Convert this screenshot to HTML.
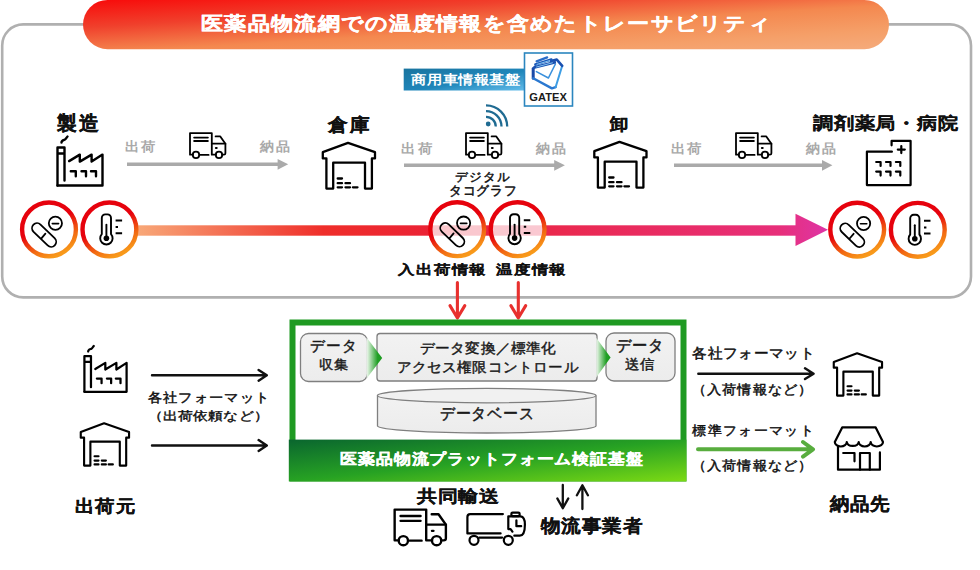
<!DOCTYPE html>
<html><head><meta charset="utf-8">
<style>
html,body{margin:0;padding:0;background:#fff;}
body{width:980px;height:570px;position:relative;overflow:hidden;font-family:"Liberation Sans",sans-serif;color:#111;}
.t{position:absolute;white-space:nowrap;line-height:1;transform-origin:0 0;}
.b{font-weight:bold;}
svg{position:absolute;left:0;top:0;}
</style></head><body>
<svg width="980" height="570" viewBox="0 0 980 570">
<defs>
<linearGradient id="gTitle" x1="0" y1="0" x2="1" y2="1" gradientUnits="objectBoundingBox">
<stop offset="0" stop-color="#f80a0a"/><stop offset="0.28" stop-color="#f0402c"/><stop offset="0.55" stop-color="#f4884f"/><stop offset="0.8" stop-color="#f59f68"/><stop offset="1" stop-color="#f5ab7c"/>
</linearGradient>
<linearGradient id="gRing" x1="0.3" y1="0.1" x2="0.72" y2="0.95">
<stop offset="0.38" stop-color="#e6020d"/><stop offset="0.75" stop-color="#f26a12"/><stop offset="1" stop-color="#f8991a"/>
</linearGradient>
<linearGradient id="gBar" gradientUnits="userSpaceOnUse" x1="137" y1="0" x2="828" y2="0">
<stop offset="0" stop-color="#f8a878"/><stop offset="0.27" stop-color="#ef2e2a"/><stop offset="0.45" stop-color="#ea2036"/><stop offset="0.62" stop-color="#ea2950"/><stop offset="0.93" stop-color="#e72f7a"/><stop offset="1" stop-color="#de34a6"/>
</linearGradient>
<linearGradient id="gBlue" x1="0" y1="0" x2="1" y2="1">
<stop offset="0" stop-color="#19749f"/><stop offset="0.55" stop-color="#1f86ba"/><stop offset="1" stop-color="#62bcea"/>
</linearGradient>
<linearGradient id="gGreenBand" x1="0" y1="0" x2="1" y2="1">
<stop offset="0" stop-color="#0a662f"/><stop offset="0.5" stop-color="#27a223"/><stop offset="1" stop-color="#7cda14"/>
</linearGradient>
<linearGradient id="gChev" x1="0" y1="0" x2="1" y2="0">
<stop offset="0" stop-color="#eef6ee"/><stop offset="0.15" stop-color="#c6e6c6"/><stop offset="0.7" stop-color="#22a026"/><stop offset="1" stop-color="#1a9a1e"/>
</linearGradient>
<linearGradient id="gBox" x1="0" y1="0" x2="0" y2="1">
<stop offset="0" stop-color="#f2f2f2"/><stop offset="1" stop-color="#ececec"/>
</linearGradient>

<symbol id="factory" viewBox="0 0 48 52" overflow="visible">
<g fill="none" stroke="#000" stroke-width="2.4" stroke-linecap="round" stroke-linejoin="round">
<path d="M5.5,7.5 C5.5,5 8,5 9,4.5 C10,4 10.5,2.5 11.5,1.5"/>
<path d="M1.5,50.5 V12.5 H8.5 V18.5 H1.5 M8.5,18.5 V45.5"/>
<path d="M1.5,50.5 H46.5 V19.6 L35.6,26.6 V19.6 L23.8,26.6 V19.6 L13.1,26.1"/>
<path d="M14.8,36.3 H19.8 V41.3 M25.5,36.3 H30 V41.3 M35,36.3 H40 V41.3"/>
</g></symbol>

<symbol id="truck" viewBox="0 0 38 27" overflow="visible" preserveAspectRatio="none">
<g fill="none" stroke="#000" style="stroke-width:var(--sw,1.8)" stroke-linecap="round" stroke-linejoin="round">
<path d="M3.8,22.7 H1 V1.1 H22.8 V22.7 H26.8"/>
<path d="M5.1,5.6 H18.9 M5.1,9 H18.9"/>
<circle cx="7" cy="22.9" r="3.2"/>
<path d="M11.2,22.9 H19.6"/>
<path d="M26.6,4.4 H31.3 L36.4,11.7 V21.2 Q36.4,22.7 34.9,22.7 H33.2"/>
<path d="M22.8,11.7 H36.4"/>
<path d="M26.8,16 H27.8"/>
<circle cx="30" cy="22.9" r="3.2"/>
</g></symbol>

<symbol id="house" viewBox="0 0 54 48" overflow="visible">
<g fill="none" stroke="#000" stroke-width="2.3" stroke-linecap="round" stroke-linejoin="round">
<path d="M26,0.8 L0.8,10.2 V16.4 H4.4 V46.6 H11.2 V20.7 H43 V46.6 H49.9 V16.4 H53 V10.2 Z"/>
<path d="M15.7,36.5 H20 M15.7,41.2 H20 M23.5,41.2 H28 M15.7,45.3 H20 M23.5,45.3 H28 M30.9,45.3 H35.5"/>
</g></symbol>

<symbol id="hospital" viewBox="0 0 46 46" overflow="visible">
<g fill="none" stroke="#000" stroke-width="2.2" stroke-linecap="round" stroke-linejoin="round">
<path d="M25.9,11.7 H0.9 V45.1 H44.6 V0.9 H25.6 V5.3"/>
<path d="M31.8,9.6 H38.8 M35.3,6.1 V13.1"/>
<path d="M10.2,22 H14.6 V26 M20,22 H24.5 V26 M29.9,22 H34.3 V26 M10.2,31.6 H14.6 V35.6 M20,31.6 H24.5 V35.6 M29.9,31.6 H34.3 V35.6"/>
</g></symbol>

<symbol id="shop" viewBox="0 0 50 46" overflow="visible">
<g fill="none" stroke="#000" stroke-width="2.2" stroke-linecap="round" stroke-linejoin="round">
<path d="M8.2,1.4 H41.7 L49,16.1 A6.15,4.4 0 0 1 36.7,16.1 A6,4.4 0 0 1 24.7,16.1 A6,4.4 0 0 1 12.8,16.1 A6,4.4 0 0 1 0.8,16.1 Z"/>
<path d="M4,20.5 V43.7 H45.9 V26.4"/>
<path d="M9.2,27 H20.5 V35.3"/>
<path d="M26,43.7 V27 H35.8 V43.7"/>
</g></symbol>

<symbol id="pill" viewBox="-29 -29 58 58" overflow="visible">
<g fill="none" stroke="#000" stroke-width="1.8" stroke-linecap="round">
<rect x="-14.8" y="-5" width="29.6" height="10" rx="5" transform="translate(-4.9,5.6) rotate(44)"/>
<path d="M-7.6,8.9 L-3.6,4.2"/>
<circle cx="6.4" cy="-6.1" r="6.6"/>
<path d="M3.3,-5.8 H9.6" stroke-width="1.6"/>
</g></symbol>

<symbol id="thermo" viewBox="-29 -29 58 58" overflow="visible">
<g fill="none" stroke="#000" stroke-width="1.9" stroke-linecap="round" stroke-linejoin="round">
<path d="M-7.6,4.7 V-11.5 A3.5,3.5 0 0 1 -4.1,-15 H-1.9 A3.5,3.5 0 0 1 1.6,-11.5 V4.7 A6.2,6.2 0 1 1 -7.6,4.7 Z"/>
<path d="M-3,-4.6 V8.9"/>
<path d="M6.2,-9 H12.7 M6.2,-2.4 H8.6 M6.2,3.8 H12.7" stroke-width="2" stroke-linecap="butt"/>
</g>
<circle cx="-3" cy="8.9" r="2.8" fill="#000"/>
</symbol>
</defs>

<!-- gray frame -->
<rect x="2.2" y="24.4" width="968.8" height="273" rx="21" fill="none" stroke="#b0b0b0" stroke-width="2.6"/>
<!-- title pill -->
<rect x="83" y="0" width="806" height="49.2" rx="24.6" fill="url(#gTitle)"/>

<!-- commercial vehicle platform -->
<rect x="403.7" y="68.6" width="120.6" height="21.9" fill="url(#gBlue)"/>
<rect x="524.5" y="53" width="48" height="53" fill="#fff" stroke="#2b86bf" stroke-width="1.6"/>
<g fill="none" stroke-linejoin="round" stroke-linecap="round">
<path d="M533.2,68.6 V78.2" stroke="#1a4aa8" stroke-width="3"/>
<path d="M533.2,78.2 L551.9,88.4 L555.6,87.2" stroke="#2a78d0" stroke-width="2.4"/>
<path d="M555.6,87.2 L562.2,65.8" stroke="#3d9de4" stroke-width="2"/>
<path d="M562.2,65.8 L556.8,59.6 L551,61" stroke="#1a50b0" stroke-width="2.6"/>
<path d="M536.4,71.6 L548.4,78 L555.4,64" stroke="#3a90dc" stroke-width="1.6"/>
<path d="M534.4,67.4 L554.6,62.4" stroke="#1a50b0" stroke-width="3"/>
<path d="M535.4,64.6 L551.4,59.6" stroke="#1a58b8" stroke-width="2.6"/>
<path d="M536.6,61.4 L547.2,57.4" stroke="#2a6cc8" stroke-width="2.2"/>
<path d="M537,64.4 L549.6,60.6 M536.6,67 L552.4,62.8" stroke="#8fd0f8" stroke-width="0.9"/>
</g>

<text x="529.3" y="101" font-family="Liberation Sans" font-weight="bold" font-size="11.6" fill="#1a1a1a" textLength="37.5" lengthAdjust="spacingAndGlyphs">GATEX</text>
<!-- top row icons -->
<use href="#factory" x="56" y="135" width="48" height="52"/>
<use href="#house" x="322" y="142" width="54" height="48"/>
<use href="#house" x="593.5" y="141" width="54" height="48"/>
<use href="#hospital" x="866" y="140" width="46" height="46"/>
<use href="#truck" x="189" y="132" width="38" height="27"/>
<use href="#truck" x="465" y="132" width="38" height="27"/>
<use href="#truck" x="735" y="132" width="38" height="27"/>
<!-- wifi -->
<g fill="none" stroke="#1f6b92" stroke-width="2.3" stroke-linecap="butt">
<path d="M486,116.8 A9.8,9.8 0 0 1 495.8,126.6"/>
<path d="M486,111.1 A15.5,15.5 0 0 1 501.5,126.6"/>
<path d="M486,105.4 A21.2,21.2 0 0 1 507.2,126.6"/>
</g>
<circle cx="488.2" cy="124" r="2.4" fill="#1f6b92"/>

<!-- gray arrows -->
<g stroke="#aaaaaa" stroke-width="3.4" fill="#aaaaaa">
<path d="M127,164.3 H279"/><path d="M288.2,164.3 L277.6,158.9 V169.7 Z" stroke="none"/>
<path d="M404,165.3 H556"/><path d="M564.9,165.3 L554.2,159.9 V170.7 Z" stroke="none"/>
<path d="M674,165.3 H824"/><path d="M832.4,165.3 L822,159.9 V170.7 Z" stroke="none"/>
</g>

<!-- gradient bar + arrow -->
<rect x="137" y="225.3" width="661" height="10.4" fill="url(#gBar)"/>
<path d="M795.5,213.8 L828,229.8 L795.5,246 Z" fill="url(#gBar)"/>

<!-- circles -->
<g stroke="url(#gRing)" stroke-width="4.4" fill="#fff">
<circle cx="49" cy="229.4" r="26.9"/>
<circle cx="109.4" cy="229.4" r="26.9"/>
<circle cx="457.2" cy="229.2" r="26.9" fill-opacity="0.75"/>
<circle cx="517.6" cy="229.2" r="26.9" fill-opacity="0.75"/>
<circle cx="857.2" cy="229.6" r="26.9"/>
<circle cx="917.8" cy="229.8" r="26.9"/>
</g>
<use href="#pill" x="20" y="200.4" width="58" height="58"/>
<use href="#thermo" x="80.4" y="200.4" width="58" height="58"/>
<use href="#pill" x="428.2" y="200.2" width="58" height="58"/>
<use href="#thermo" x="488.6" y="200.2" width="58" height="58"/>
<use href="#pill" x="828.2" y="200.6" width="58" height="58"/>
<use href="#thermo" x="888.8" y="200.8" width="58" height="58"/>

<!-- red down arrows -->
<g stroke="#e8302e" stroke-width="3.1" fill="none" stroke-linecap="round" stroke-linejoin="round">
<path d="M457.4,282.5 V317.5 M450,305.6 L457.4,318 L464.8,305.6"/>
<path d="M518.3,282.5 V317.5 M510.9,305.6 L518.3,318 L525.7,305.6"/>
</g>

<!-- green platform -->
<rect x="292.5" y="322.5" width="391" height="156" fill="#fff" stroke="#1f9a22" stroke-width="6"/>
<rect x="288.8" y="439.6" width="397.6" height="41.8" fill="url(#gGreenBand)"/>
<!-- inner boxes -->
<rect x="300.5" y="333.5" width="67" height="48" rx="8" fill="url(#gBox)" stroke="#7f7f7f" stroke-width="1.3"/>
<rect x="377" y="333.5" width="220" height="47.5" rx="3" fill="url(#gBox)" stroke="#7f7f7f" stroke-width="1.3"/>
<rect x="606" y="333" width="69" height="48" rx="8" fill="url(#gBox)" stroke="#7f7f7f" stroke-width="1.3"/>
<path d="M366.6,337.4 L382.2,358 L366.6,378.4 Z" fill="url(#gChev)"/>
<path d="M596.2,337.8 L610.6,357.6 L596.2,377.6 Z" fill="url(#gChev)"/>
<!-- cylinder -->
<path d="M377.5,395.5 V426 A109.3,7.2 0 0 0 596,426 V395.5" fill="url(#gBox)" stroke="#7f7f7f" stroke-width="1.3"/>
<ellipse cx="486.7" cy="395.6" rx="109.3" ry="7.2" fill="#f1f1f1" stroke="#7f7f7f" stroke-width="1.3"/>

<!-- bottom-left icons and arrows -->
<use href="#factory" x="83" y="344.5" width="45" height="48.8"/>
<use href="#house" x="80" y="422.5" width="50" height="44.4"/>
<g stroke="#111" stroke-width="2.4" fill="none" stroke-linecap="round" stroke-linejoin="round">
<path d="M152,375.3 H266.5 M258.6,369.9 L266.8,375.3 L258.6,380.7"/>
<path d="M152,445.5 H266.5 M258.6,440.1 L266.8,445.5 L258.6,450.9"/>
<path d="M698.3,373.7 H813.5 M805,368.3 L813.6,373.7 L805,379.1"/>
</g>
<g stroke="#58ad3e" stroke-width="4" fill="none" stroke-linecap="round" stroke-linejoin="round">
<path d="M698,449.3 H812 M803,442 L813,449.3 L803,456.6"/>
</g>
<use href="#house" x="833" y="352.5" width="50" height="44.4"/>
<use href="#shop" x="834" y="426" width="50" height="46"/>

<!-- bottom trucks -->
<use href="#truck" x="393.2" y="508" width="55" height="38.5" style="--sw:1.65"/>
<g fill="none" stroke="#000" stroke-width="2.2" stroke-linecap="round" stroke-linejoin="round">
<path d="M502.9,514.1 H470.2 Q467.4,514.1 467.4,516.9 V533.4 H500.6"/>
<path d="M479.4,537.6 H502.1"/>
<circle cx="474" cy="540.3" r="4.5"/>
<circle cx="508.3" cy="540.3" r="4.5"/>
<rect x="511.4" y="512.6" width="8.2" height="3.6" rx="1.2"/>
<path d="M508.3,529.1 V516.4 H520.6 Q524.9,517 524.9,524.5 Q524.9,535.7 519.8,535.7 H514.3 M508.3,529.1 H510.6 L512.4,531.6"/>
<path d="M516.4,520.3 V526.2 H521.2"/>
</g>
<g stroke="#111" stroke-width="2.3" fill="none" stroke-linecap="round" stroke-linejoin="round">
<path d="M562.8,485 V508 M557.3,498.4 L562.8,508.2 L568.3,498.4"/>
<path d="M582.4,509 V485.5 M576.9,495.3 L582.4,485.3 L587.9,495.3"/>
</g>
</svg>

<!-- TEXT -->
<div class="t" style="left:201.2px;top:14.9px;font-size:22.26px;letter-spacing:1.283px;transform:scaleY(0.861);color:#fff;font-weight:bold;-webkit-text-stroke:0.35px #fff">医薬品物流網での温度情報を含めたトレーサビリティ</div>
<div class="t" style="left:411.3px;top:74.4px;font-size:14.81px;letter-spacing:0.617px;transform:scaleY(0.853);color:#fff;font-weight:bold">商用車情報基盤</div>
<div class="t" style="left:57.3px;top:113.8px;font-size:19.24px;letter-spacing:2.5px;transform:scaleY(1.016);color:#111;font-weight:bold;-webkit-text-stroke:0.3px #111">製造</div>
<div class="t" style="left:328.0px;top:115.6px;font-size:19.47px;letter-spacing:3.0px;transform:scaleY(0.920);color:#111;font-weight:bold;-webkit-text-stroke:0.3px #111">倉庫</div>
<div class="t" style="left:609.7px;top:115.7px;font-size:18.71px;letter-spacing:1.2px;transform:scaleY(0.932);color:#111;font-weight:bold;-webkit-text-stroke:0.3px #111">卸</div>
<div class="t" style="left:813.2px;top:116.2px;font-size:19.61px;letter-spacing:0.75px;transform:scaleY(0.843);color:#111;font-weight:bold;-webkit-text-stroke:0.3px #111">調剤薬局・病院</div>
<div class="t" style="left:125.4px;top:139.6px;font-size:14.36px;letter-spacing:2.1px;transform:scaleY(0.914);color:#a9a9a9;font-weight:bold">出荷</div>
<div class="t" style="left:259.9px;top:139.6px;font-size:14.18px;letter-spacing:2.1px;transform:scaleY(0.929);color:#a9a9a9;font-weight:bold">納品</div>
<div class="t" style="left:401.4px;top:141.9px;font-size:14.46px;letter-spacing:2.3px;transform:scaleY(0.907);color:#a9a9a9;font-weight:bold">出荷</div>
<div class="t" style="left:536.0px;top:141.6px;font-size:14.23px;letter-spacing:2.2px;transform:scaleY(0.929);color:#a9a9a9;font-weight:bold">納品</div>
<div class="t" style="left:671.4px;top:141.9px;font-size:14.36px;letter-spacing:2.1px;transform:scaleY(0.907);color:#a9a9a9;font-weight:bold">出荷</div>
<div class="t" style="left:805.9px;top:141.6px;font-size:14.27px;letter-spacing:2.3px;transform:scaleY(0.929);color:#a9a9a9;font-weight:bold">納品</div>
<div class="t" style="left:455.4px;top:170.5px;font-size:12.72px;letter-spacing:0.967px;transform:scaleY(0.950);color:#111;font-weight:normal;-webkit-text-stroke:0.5px #111">デジタル</div>
<div class="t" style="left:449.3px;top:185.2px;font-size:12.79px;letter-spacing:0.575px;transform:scaleY(1.017);color:#111;font-weight:normal;-webkit-text-stroke:0.5px #111">タコグラフ</div>
<div class="t" style="left:398.1px;top:264.0px;font-size:16.69px;letter-spacing:0.825px;transform:scaleY(0.794);color:#111;font-weight:bold;-webkit-text-stroke:0.25px #111">入出荷情報</div>
<div class="t" style="left:496.0px;top:264.0px;font-size:16.72px;letter-spacing:0.8px;transform:scaleY(0.794);color:#111;font-weight:bold;-webkit-text-stroke:0.25px #111">温度情報</div>
<div class="t" style="left:310.2px;top:337.8px;font-size:15.03px;letter-spacing:1.15px;transform:scaleY(1.023);color:#1a1a1a;font-weight:normal;-webkit-text-stroke:0.45px #1a1a1a">データ</div>
<div class="t" style="left:318.6px;top:358.0px;font-size:14.06px;letter-spacing:1.5px;transform:scaleY(0.914);color:#1a1a1a;font-weight:normal;-webkit-text-stroke:0.45px #1a1a1a">収集</div>
<div class="t" style="left:420.0px;top:341.9px;font-size:14.26px;letter-spacing:1.138px;transform:scaleY(0.957);color:#1a1a1a;font-weight:normal;-webkit-text-stroke:0.45px #1a1a1a">データ変換／標準化</div>
<div class="t" style="left:396.5px;top:359.8px;font-size:14.14px;letter-spacing:1.191px;transform:scaleY(0.964);color:#1a1a1a;font-weight:normal;-webkit-text-stroke:0.45px #1a1a1a">アクセス権限コントロール</div>
<div class="t" style="left:616.1px;top:338.0px;font-size:14.89px;letter-spacing:0.95px;transform:scaleY(1.046);color:#1a1a1a;font-weight:normal;-webkit-text-stroke:0.45px #1a1a1a">データ</div>
<div class="t" style="left:625.4px;top:356.9px;font-size:14.13px;letter-spacing:1.0px;transform:scaleY(0.977);color:#1a1a1a;font-weight:normal;-webkit-text-stroke:0.45px #1a1a1a">送信</div>
<div class="t" style="left:440.0px;top:406.2px;font-size:14.59px;letter-spacing:0.72px;transform:scaleY(1.069);color:#1a1a1a;font-weight:normal;-webkit-text-stroke:0.45px #1a1a1a">データベース</div>
<div class="t" style="left:340.1px;top:452.1px;font-size:16.82px;letter-spacing:0.862px;transform:scaleY(0.889);color:#fff;font-weight:bold;-webkit-text-stroke:0.35px #fff">医薬品物流プラットフォーム検証基盤</div>
<div class="t" style="left:147.9px;top:391.3px;font-size:14.29px;letter-spacing:1.3px;transform:scaleY(0.914);color:#111;font-weight:normal;-webkit-text-stroke:0.5px #111">各社フォーマット</div>
<div class="t" style="left:147.6px;top:409.9px;font-size:14.37px;letter-spacing:1.157px;transform:scaleY(0.813);color:#111;font-weight:normal;-webkit-text-stroke:0.5px #111">（出荷依頼など）</div>
<div class="t" style="left:74.8px;top:497.8px;font-size:19.62px;letter-spacing:0.7px;transform:scaleY(0.880);color:#111;font-weight:bold;-webkit-text-stroke:0.3px #111">出荷元</div>
<div class="t" style="left:692.3px;top:347.1px;font-size:14.32px;letter-spacing:1.329px;transform:scaleY(0.957);color:#111;font-weight:normal;-webkit-text-stroke:0.5px #111">各社フォーマット</div>
<div class="t" style="left:691.6px;top:382.6px;font-size:14.44px;letter-spacing:1.229px;transform:scaleY(0.920);color:#111;font-weight:normal;-webkit-text-stroke:0.5px #111">（入荷情報など）</div>
<div class="t" style="left:692.3px;top:423.7px;font-size:14.27px;letter-spacing:1.329px;transform:scaleY(0.936);color:#111;font-weight:normal;-webkit-text-stroke:0.5px #111">標準フォーマット</div>
<div class="t" style="left:691.6px;top:459.3px;font-size:14.44px;letter-spacing:1.229px;transform:scaleY(0.920);color:#111;font-weight:normal;-webkit-text-stroke:0.5px #111">（入荷情報など）</div>
<div class="t" style="left:829.6px;top:495.3px;font-size:19.09px;letter-spacing:1.4px;transform:scaleY(0.926);color:#111;font-weight:bold;-webkit-text-stroke:0.3px #111">納品先</div>
<div class="t" style="left:417.0px;top:487.5px;font-size:19.5px;letter-spacing:0.533px;transform:scaleY(0.852);color:#111;font-weight:bold;-webkit-text-stroke:0.3px #111">共同輸送</div>
<div class="t" style="left:540.6px;top:517.0px;font-size:19.4px;letter-spacing:1.525px;transform:scaleY(0.920);color:#111;font-weight:bold;-webkit-text-stroke:0.3px #111">物流事業者</div>
<!-- /TEXT -->
</body></html>
